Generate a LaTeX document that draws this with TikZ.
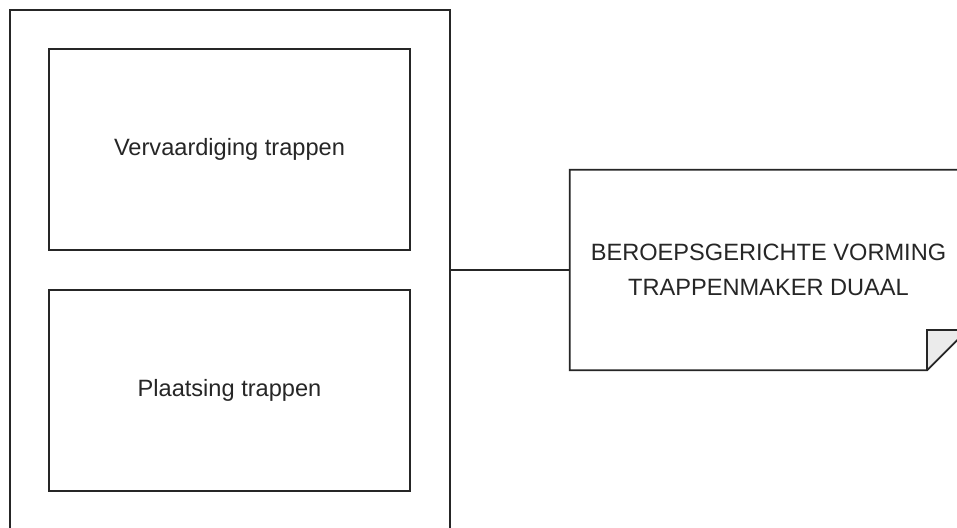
\documentclass[tikz,border=0pt]{standalone}
\usepackage{fontspec}
\setmainfont{Liberation Sans}
\begin{document}
\begin{tikzpicture}[x=1pt,y=-1pt,
  box/.style={draw=black!85, line width=1.8pt, rectangle, inner sep=0pt},
  lbl/.style={font=\fontsize{23.6}{35.6}\selectfont, text=black!85, align=center},
  conn/.style={draw=black!85, line width=1.8pt}]
\useasboundingbox (0,0) rectangle (957,527);
\clip (0,0) rectangle (957,527);
\fill[white] (0,0) rectangle (957,527);
\node[box, minimum width=440pt, minimum height=560pt] (outer) at (230,290) {};
\node[box, minimum width=361pt, minimum height=201pt, lbl] (b1) at (229.5,149.5) {Vervaardiging trappen};
\node[box, minimum width=361pt, minimum height=201pt, lbl] (b2) at (229.5,390.5) {Plaatsing trappen};
\node[rectangle, inner sep=0pt, minimum width=397pt, minimum height=200pt, lbl] (note) at (768.5,270) {BEROEPSGERICHTE VORMING\\TRAPPENMAKER DUAAL};
\coordinate (fr) at ([shift={(0,-40)}]note.south east);
\coordinate (fc) at ([shift={(-40,-40)}]note.south east);
\coordinate (fb) at ([shift={(-40,0)}]note.south east);
\fill[black!8] (fc) -- (fr) -- (fb) -- cycle;
\draw[conn, line join=miter] (note.north west) -- (note.north east) -- (fr) -- (fb) -- (note.south west) -- cycle;
\draw[conn] (fb) -- (fc) -- (fr);
\draw[conn] (outer.east |- note.west) -- (note.west);
\end{tikzpicture}
\end{document}
